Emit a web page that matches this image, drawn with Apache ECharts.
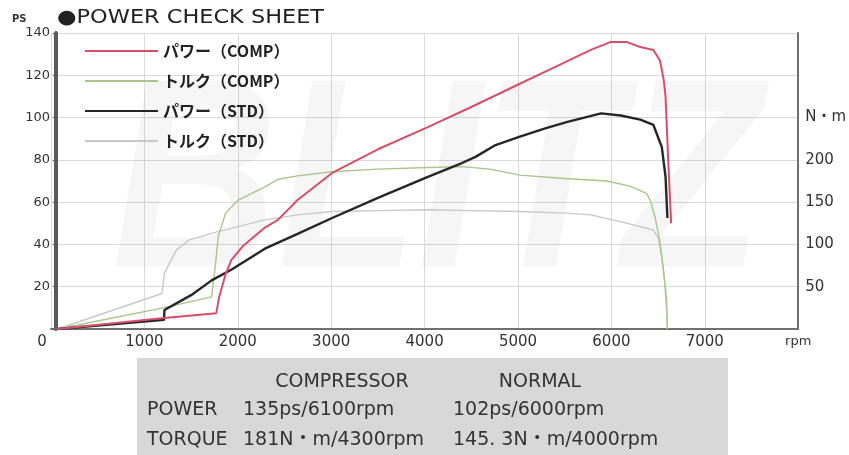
<!DOCTYPE html>
<html>
<head>
<meta charset="utf-8">
<script src="https://cdn.jsdelivr.net/npm/echarts@6/dist/echarts.min.js"></script>
<style>
html,body{margin:0;padding:0;background:#fff;}
#chart{width:849px;height:455px;}
</style>
</head>
<body>
<div id="chart"></div>
<script>
// ---- data ----
const seriesNames = ['パワー（COMP）', 'トルク（COMP）', 'パワー（STD）', 'トルク（STD）'];

const rpmPowerComp = [70, 1210, 1770, 1800, 1870, 1930, 2050, 2290, 2430, 2640, 3010, 3500, 4035, 4500, 5020, 5400, 5780, 5995, 6160, 6310, 6450, 6520, 6560, 6580, 6610, 6640];
const psPowerComp  = [0, 5.2, 7.5, 15, 26, 32.6, 39, 48, 51.6, 61, 73.8, 85, 95.5, 105, 116, 124, 132, 135.8, 135.8, 133.4, 132, 127, 118, 110, 78.5, 50];

const rpmTorqueComp = [70, 1200, 1720, 1760, 1790, 1870, 2000, 2290, 2430, 2640, 3010, 3500, 4035, 4400, 4700, 5020, 5500, 5950, 6200, 6380, 6420, 6470, 6520, 6560, 6590, 6600];
const nmTorqueComp  = [0, 25, 38, 75, 109, 137, 152, 168, 177, 181, 186, 189, 191, 192, 189, 182, 178, 175, 169, 160, 151, 131, 103, 68, 36, 0];

const rpmPowerStd = [70, 1210, 1215, 1500, 1720, 1930, 2290, 2640, 3010, 3500, 4035, 4400, 4545, 4760, 5020, 5300, 5530, 5890, 6100, 6310, 6450, 6540, 6580, 6600];
const psPowerStd  = [0, 4.3, 9, 16, 23, 28, 38, 45, 52.5, 62, 72, 78.5, 81.4, 87, 91, 95, 98, 102, 101, 99, 96.5, 86, 72, 52.5];

const rpmTorqueStd = [70, 1190, 1215, 1340, 1475, 1720, 1930, 2290, 2640, 3010, 3500, 4035, 4500, 5020, 5500, 5780, 6130, 6450, 6500, 6540, 6570, 6590, 6600];
const nmTorqueStd  = [0, 42, 66, 93, 105, 113, 119, 129, 135, 139, 140, 141, 140, 139, 137, 135, 126, 117, 108, 85, 55, 25, 0];

const xTicks = [0, 1000, 2000, 3000, 4000, 5000, 6000, 7000, 8000];
const psTicks = [0, 20, 40, 60, 80, 100, 120, 140];
const nmTicksShown = [50, 100, 150, 200];

const tableHeaders = ['COMPRESSOR', 'NORMAL'];
const tableRows = [
  ['POWER', '135ps/6100rpm', '102ps/6000rpm'],
  ['TORQUE', '181N・m/4300rpm', '145. 3N・m/4000rpm']
];

function zip(a, b) { return a.map((v, i) => [v, b[i]]); }

const chart = echarts.init(document.getElementById('chart'), null, {renderer: 'canvas'});
const LAB = '"DejaVu Sans", "Noto Sans CJK JP", sans-serif';
const TBL = '19px "DejaVu Sans", "Noto Sans CJK JP", sans-serif';

const option = {
  animation: false,
  backgroundColor: '#ffffff',
  grid: {left: 51, right: 45, top: 33, bottom: 126, containLabel: false},
  legend: {
    orient: 'vertical', left: 85, top: 43, padding: 0,
    icon: 'rect', itemWidth: 73, itemHeight: 2, itemGap: 14,
    textStyle: {fontFamily: '"Noto Sans CJK JP", sans-serif', fontWeight: 'bold', fontSize: 16, color: '#222', lineHeight: 16},
    data: seriesNames
  },
  xAxis: {
    type: 'value', min: xTicks[0], max: xTicks[xTicks.length - 1], interval: 1000,
    axisLine: {show: true, lineStyle: {color: '#707070', width: 2}},
    axisTick: {show: false},
    splitLine: {show: true, lineStyle: {color: '#dadada', width: 1}},
    axisLabel: {
      margin: 6, color: '#333', fontFamily: LAB, fontSize: 15,
      formatter: function (v) {
        if (v === 0) return '{z|0}';
        if (v === 8000) return '{u|rpm}';
        return String(v);
      },
      rich: {
        z: {padding: [0, 18, 0, 0], fontFamily: LAB, fontSize: 15, color: '#333'},
        u: {fontFamily: LAB, fontSize: 13, color: '#333'}
      }
    }
  },
  yAxis: [
    {
      type: 'value', min: psTicks[0], max: psTicks[psTicks.length - 1], interval: 20,
      offset: -5,
      axisLine: {show: true, lineStyle: {color: '#5a5a5a', width: 4}},
      axisTick: {show: true, length: 3, lineStyle: {color: '#5a5a5a'}},
      splitLine: {show: true, lineStyle: {color: '#dadada', width: 1}},
      axisLabel: {
        margin: 6, color: '#333', fontFamily: LAB, fontSize: 13,
        formatter: v => (v === 0 ? '' : String(v))
      }
    },
    {
      type: 'value', position: 'right', min: 0, max: 350, interval: 50,
      axisLine: {show: true, lineStyle: {color: '#707070', width: 2}},
      axisTick: {show: false},
      splitLine: {show: false},
      axisLabel: {
        margin: 7, color: '#333', fontFamily: LAB, fontSize: 15,
        formatter: function (v) {
          if (nmTicksShown.indexOf(v) >= 0) return String(v);
          if (v === 250) return 'N・m';
          return '';
        }
      }
    }
  ],
  graphic: [
    {type: 'text', x: 437, y: 192, scaleX: 0.85, z: 1, silent: true,
     style: {text: 'BLITZ', align: 'center', verticalAlign: 'middle',
             font: 'italic 900 270px "Liberation Sans", sans-serif', fill: 'rgba(0,0,0,0.035)'}},
    {type: 'text', x: 12, y: 19, z: 5,
     style: {text: 'PS', align: 'left', verticalAlign: 'middle', font: 'bold 10px "DejaVu Sans", sans-serif', fill: '#333'}},
    {type: 'text', x: 57, y: 18, scaleX: 1.18, z: 5,
     style: {text: '●POWER CHECK SHEET', align: 'left', verticalAlign: 'middle', font: 'normal 19px "DejaVu Sans", sans-serif', fill: '#222'}},
    {type: 'rect', z: 5, shape: {x: 137, y: 358, width: 591, height: 97}, style: {fill: '#d8d8d8'}},
    {type: 'text', x: 342, y: 382, z: 6, style: {text: tableHeaders[0], align: 'center', verticalAlign: 'middle', font: TBL, fill: '#333'}},
    {type: 'text', x: 540, y: 382, z: 6, style: {text: tableHeaders[1], align: 'center', verticalAlign: 'middle', font: TBL, fill: '#333'}},
    {type: 'text', x: 147, y: 410, z: 6, style: {text: tableRows[0][0], align: 'left', verticalAlign: 'middle', font: TBL, fill: '#333'}},
    {type: 'text', x: 243, y: 410, z: 6, style: {text: tableRows[0][1], align: 'left', verticalAlign: 'middle', font: TBL, fill: '#333'}},
    {type: 'text', x: 453, y: 410, z: 6, style: {text: tableRows[0][2], align: 'left', verticalAlign: 'middle', font: TBL, fill: '#333'}},
    {type: 'text', x: 147, y: 440, z: 6, style: {text: tableRows[1][0], align: 'left', verticalAlign: 'middle', font: TBL, fill: '#333'}},
    {type: 'text', x: 243, y: 440, z: 6, style: {text: tableRows[1][1], align: 'left', verticalAlign: 'middle', font: TBL, fill: '#333'}},
    {type: 'text', x: 453, y: 440, z: 6, style: {text: tableRows[1][2], align: 'left', verticalAlign: 'middle', font: TBL, fill: '#333'}}
  ],
  series: [
    {name: seriesNames[3], type: 'line', yAxisIndex: 1, symbol: 'none', z: 3,
     lineStyle: {color: '#c9c9c9', width: 1.4}, itemStyle: {color: '#c9c9c9'},
     data: zip(rpmTorqueStd, nmTorqueStd)},
    {name: seriesNames[1], type: 'line', yAxisIndex: 1, symbol: 'none', z: 4,
     lineStyle: {color: '#a9c58c', width: 1.4}, itemStyle: {color: '#a9c58c'},
     data: zip(rpmTorqueComp, nmTorqueComp)},
    {name: seriesNames[2], type: 'line', yAxisIndex: 0, symbol: 'none', z: 5,
     lineStyle: {color: '#262626', width: 2.4}, itemStyle: {color: '#262626'},
     data: zip(rpmPowerStd, psPowerStd)},
    {name: seriesNames[0], type: 'line', yAxisIndex: 0, symbol: 'none', z: 6,
     lineStyle: {color: '#d4506a', width: 2}, itemStyle: {color: '#d4506a'},
     data: zip(rpmPowerComp, psPowerComp)}
  ]
};
chart.setOption(option);
</script>
</body>
</html>
